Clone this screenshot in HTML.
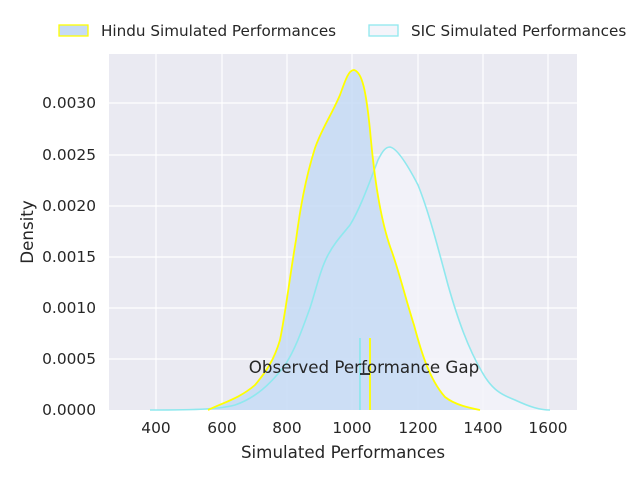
<!DOCTYPE html>
<html><head><style>body{margin:0;background:#fff}svg{display:block;font-family:"DejaVu Sans","Liberation Sans",sans-serif}</style></head><body>
<svg width="640" height="480" xmlns="http://www.w3.org/2000/svg">
<rect x="109" y="54" width="468" height="356" fill="#eaeaf2"/>
<g stroke="#fff" stroke-width="1.2">
<line x1="156" y1="54" x2="156" y2="410"/><line x1="222" y1="54" x2="222" y2="410"/><line x1="287" y1="54" x2="287" y2="410"/><line x1="352" y1="54" x2="352" y2="410"/><line x1="418" y1="54" x2="418" y2="410"/><line x1="483" y1="54" x2="483" y2="410"/><line x1="548" y1="54" x2="548" y2="410"/>
<line x1="109" y1="359" x2="577" y2="359"/><line x1="109" y1="308" x2="577" y2="308"/><line x1="109" y1="257" x2="577" y2="257"/><line x1="109" y1="206" x2="577" y2="206"/><line x1="109" y1="155" x2="577" y2="155"/><line x1="109" y1="103" x2="577" y2="103"/>
</g>
<defs>
<path id="sic" d="M150,410 C200,410 220,409 235,405 C255,398 270,385 285,365 C295,350 302,330 310,308 C316,290 320,270 328,255 C335,242 342,235 350,225 C358,212 365,195 378,160 C383,150 386,147 390,147 C396,148 405,160 418,185 C428,210 436,240 448,285 C458,320 468,348 482,372 C492,390 502,395 515,400 C530,407 540,410 550,410"/>
<path id="hin" d="M208,410 C225,402 240,398 255,385 C266,372 274,360 280,340 C286,310 290,275 296,240 C300,210 305,180 315,148 C322,128 330,118 340,95 C346,78 349,70 354,70 C362,72 366,90 370,130 C374,175 380,220 392,252 C400,275 406,300 414,325 C422,355 430,380 445,397 C455,405 470,408 480,410"/>
</defs>
<use href="#sic" fill="#f4f4fa" fill-opacity="0.8"/>
<use href="#hin" fill="#c6dbf5" fill-opacity="0.85"/>
<use href="#sic" fill="none" stroke="#8fe8ee" stroke-width="1.6"/>
<use href="#hin" fill="none" stroke="#ffff00" stroke-width="1.8"/>
<line x1="360" y1="338" x2="360" y2="410" stroke="#8fe8ee" stroke-width="1.8"/>
<line x1="370" y1="338" x2="370" y2="410" stroke="#ffff00" stroke-width="1.8"/>
<line x1="360" y1="374" x2="370" y2="374" stroke="#000" stroke-width="1.5"/>
<text x="364" y="373" font-size="16.7" fill="#262626" text-anchor="middle">Observed Performance Gap</text>
<g font-size="15.4" fill="#262626" text-anchor="middle">
<text x="156" y="433">400</text><text x="222" y="433">600</text><text x="287" y="433">800</text><text x="352" y="433">1000</text><text x="418" y="433">1200</text><text x="483" y="433">1400</text><text x="548" y="433">1600</text>
</g>
<g font-size="15.4" fill="#262626" text-anchor="end">
<text x="96" y="415">0.0000</text><text x="96" y="364">0.0005</text><text x="96" y="313">0.0010</text><text x="96" y="262">0.0015</text><text x="96" y="211">0.0020</text><text x="96" y="160">0.0025</text><text x="96" y="108">0.0030</text>
</g>
<text x="343" y="458" font-size="16.7" fill="#262626" text-anchor="middle">Simulated Performances</text>
<text transform="translate(33,232) rotate(-90)" font-size="16.7" fill="#262626" text-anchor="middle">Density</text>
<rect x="59" y="25" width="29" height="11" fill="#c6dbf5" stroke="#ffff00" stroke-width="1.3"/>
<text x="101" y="36" font-size="15.2" fill="#262626">Hindu Simulated Performances</text>
<rect x="369" y="25" width="29" height="11" fill="#f4f4fa" stroke="#8fe8ee" stroke-width="1.3"/>
<text x="411" y="36" font-size="15.2" fill="#262626">SIC Simulated Performances</text>
</svg>
</body></html>
